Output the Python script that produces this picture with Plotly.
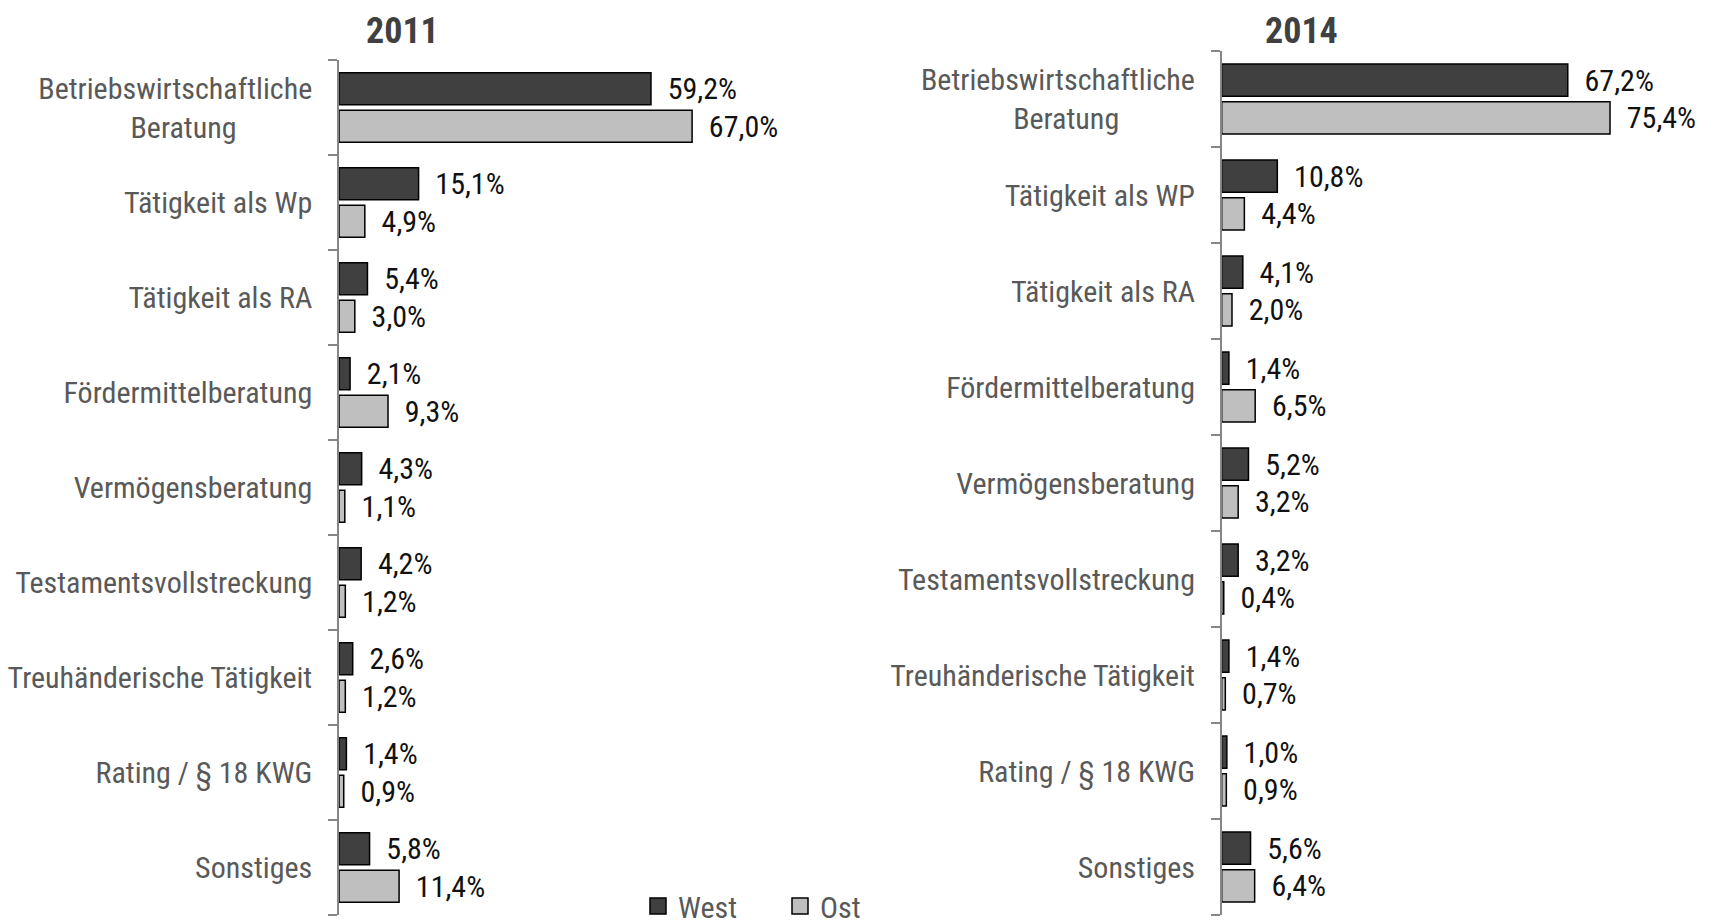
import plotly.graph_objects as go

categories_2011 = ["Betriebswirtschaftliche<br>Beratung", "Tätigkeit als Wp", "Tätigkeit als RA",
                   "Fördermittelberatung", "Vermögensberatung", "Testamentsvollstreckung",
                   "Treuhänderische Tätigkeit", "Rating / § 18 KWG", "Sonstiges"]
categories_2014 = ["Betriebswirtschaftliche<br>Beratung", "Tätigkeit als WP", "Tätigkeit als RA",
                   "Fördermittelberatung", "Vermögensberatung", "Testamentsvollstreckung",
                   "Treuhänderische Tätigkeit", "Rating / § 18 KWG", "Sonstiges"]
west_2011 = [59.2, 15.1, 5.4, 2.1, 4.3, 4.2, 2.6, 1.4, 5.8]
ost_2011 = [67.0, 4.9, 3.0, 9.3, 1.1, 1.2, 1.2, 0.9, 11.4]
west_2014 = [67.2, 10.8, 4.1, 1.4, 5.2, 3.2, 1.4, 1.0, 5.6]
ost_2014 = [75.4, 4.4, 2.0, 6.5, 3.2, 0.4, 0.7, 0.9, 6.4]
series_names = ["West", "Ost"]
titles = ["2011", "2014"]

FONT = "Liberation Sans Narrow, Arial Narrow, Roboto Condensed, Liberation Sans, sans-serif"
WEST_COLOR = "#404040"
OST_COLOR = "#BFBFBF"
AXIS_COLOR = "#868686"
LABEL_COLOR = "#595959"


def fmt(v):
    return "\u00a0\u00a0" + f"{v:.1f}".replace(".", ",") + "%"


def ticktext(cats):
    out = []
    for c in cats:
        if "<br>" in c:
            a, b = c.split("<br>")
            pad = "\u00a0" * 11
            out.append(a + "<br>" + b + pad)
        else:
            out.append(c)
    return out


fig = go.Figure()

panels = [
    (categories_2011, west_2011, ost_2011, "x", "y"),
    (categories_2014, west_2014, ost_2014, "x2", "y2"),
]
for cats, w, o, xa, ya in panels:
    for name, vals, col in [(series_names[0], w, WEST_COLOR), (series_names[1], o, OST_COLOR)]:
        fig.add_trace(go.Bar(
            y=cats, x=vals, orientation="h", name=name,
            marker=dict(color=col, line=dict(color="#000000", width=1.5)),
            text=[fmt(v) for v in vals], textposition="outside",
            textfont=dict(family=FONT, size=30, color="#111111"),
            constraintext="none", cliponaxis=False,
            showlegend=False, xaxis=xa, yaxis=ya,
        ))

# legend entries
for name, col in [(series_names[0], WEST_COLOR), (series_names[1], OST_COLOR)]:
    fig.add_trace(go.Scatter(
        x=[None], y=[None], mode="markers", name=name,
        marker=dict(symbol="square", size=16, color=col, line=dict(color="#000000", width=1.5)),
        showlegend=True, xaxis="x", yaxis="y",
    ))

W, H = 1725, 924
yaxis_common = dict(
    type="category", autorange="reversed", showline=True, linecolor=AXIS_COLOR, linewidth=1.5,
    ticks="outside", tickson="boundaries", ticklen=9, tickcolor=AXIS_COLOR, tickwidth=1.5,
    tickfont=dict(family=FONT, size=30, color=LABEL_COLOR), ticklabelstandoff=19,
    showgrid=False, zeroline=False,
)
xaxis_common = dict(showgrid=False, zeroline=False, showticklabels=False, showline=False, ticks="")

fig.update_layout(
    width=W, height=H,
    margin=dict(l=0, r=0, t=0, b=0, autoexpand=False),
    paper_bgcolor="white", plot_bgcolor="white",
    barmode="group", bargap=0.21, bargroupgap=0.15,
    font=dict(family=FONT, size=30, color=LABEL_COLOR),
    xaxis=dict(domain=[339 / W, 800 / W], range=[0, 461 / 5.27], anchor="y", **xaxis_common),
    yaxis=dict(domain=[1 - 915 / H, 1 - 60 / H], anchor="x",
               tickmode="array", tickvals=categories_2011, ticktext=ticktext(categories_2011),
               **yaxis_common),
    xaxis2=dict(domain=[1221.7 / W, 1.0], range=[0, 503.3 / 5.15], anchor="y2", **xaxis_common),
    yaxis2=dict(domain=[1 - 915 / H, 1 - 51 / H], anchor="x2",
                tickmode="array", tickvals=categories_2014, ticktext=ticktext(categories_2014),
                **yaxis_common),
    legend=dict(orientation="h", x=638 / W, xanchor="left", y=18 / H, yanchor="middle",
                font=dict(family=FONT, size=30, color=LABEL_COLOR),
                bgcolor="rgba(0,0,0,0)", entrywidth=97, entrywidthmode="pixels",
                itemsizing="trace", traceorder="normal"),
    annotations=[
        dict(text="<b>" + titles[0] + "</b>", x=402 / W, y=1 - 31 / H, xref="paper", yref="paper",
             showarrow=False, font=dict(family=FONT, size=36, color="#404040"),
             xanchor="center", yanchor="middle"),
        dict(text="<b>" + titles[1] + "</b>", x=1301 / W, y=1 - 31 / H, xref="paper", yref="paper",
             showarrow=False, font=dict(family=FONT, size=36, color="#404040"),
             xanchor="center", yanchor="middle"),
    ],
)

fig.write_html("out.html", config={"displayModeBar": False},
               post_script="document.body.style.margin='0';document.body.style.overflow='hidden';")
